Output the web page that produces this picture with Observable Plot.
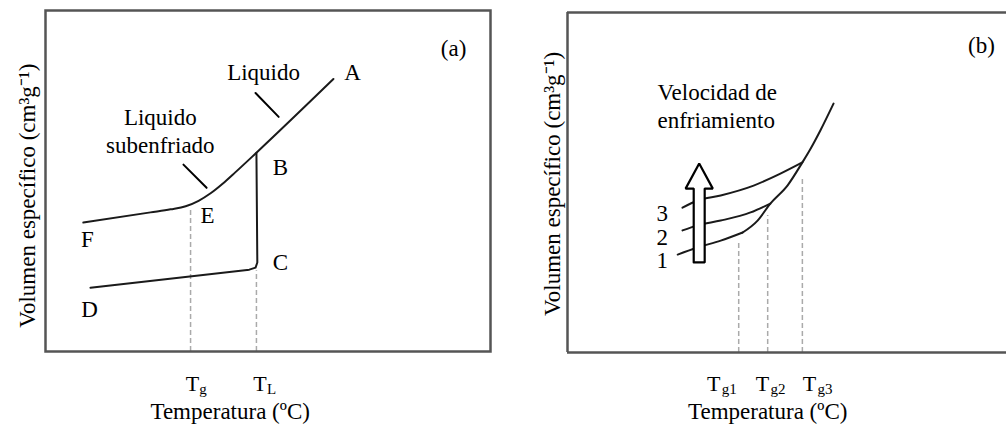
<!DOCTYPE html>
<html>
<head>
<meta charset="utf-8">
<script src="https://cdn.jsdelivr.net/npm/d3@7"></script>
<script src="https://cdn.jsdelivr.net/npm/@observablehq/plot@0.6"></script>
<style>
  html, body { margin: 0; padding: 0; background: #fff; overflow: hidden; }
  #wrap { display: flex; width: 1006px; height: 426px; }
</style>
</head>
<body>
<div id="wrap"></div>
<script>
// ---------- Panel (a) data (arbitrary units, 0–100) ----------
const curveFEBA = [[8.5,37.8],[23.6,40.8],[28.1,41.7],[31.5,42.6],[34.4,44.2],[37.1,46.4],[39.8,49.2],[42.7,52.6],[47.4,58.3],[64.7,79.9]];
const curveBCD  = [[47.4,58.3],[47.6,26.1],[47.2,24.6],[45.8,24.0],[10.1,18.7]];
const guideAX   = [32.6, 47.4];
const guideATop = [41.9, 23.7];
const tickAX    = [33.0, 48.2];
const tickASub  = ["g", "L"];
const pointerA  = [[[47.2,75.8],[52.4,68.8]], [[31.0,54.8],[36.2,48.0]]];
const labelsA   = [
  {text: "A", x: 69.0, y: 82.3},
  {text: "B", x: 52.8, y: 54.5},
  {text: "C", x: 52.8, y: 26.6},
  {text: "D", x: 9.9,  y: 12.9},
  {text: "E", x: 36.4, y: 40.4},
  {text: "F", x: 9.4,  y: 33.4},
  {text: "Liquido", x: 49.0, y: 82.3},
  {text: "Liquido\nsubenfriado", x: 25.8, y: 65.0},
  {text: "(a)", x: 91.7, y: 89.3}
];

// ---------- Panel (b) data ----------
const curve1B = [[25.1,28.8],[29.6,30.9],[34.9,32.9],[39.9,35.3]];
const mainB   = [[39.9,35.3],[43.3,38.8],[46.2,43.8],[50.1,49.1],[53.5,55.9],[55.4,60.0],[57.6,65.3],[60.6,73.2]];
const curve2B = [[26.2,35.9],[29.6,37.4],[34.9,38.8],[41.7,41.2],[46.2,43.8]];
const curve3B = [[26.2,42.6],[29.6,44.7],[34.9,46.2],[42.4,49.1],[48.5,52.6],[53.5,55.9]];
const guideBX   = [39.0, 45.6, 53.5];
const guideBTop = [32.1, 40.3, 51.5];
const tickBX    = [33.3, 44.4, 55.1];
const tickBSub  = ["g1", "g2", "g3"];
const rateLabels = [
  {text: "3", x: 21.6, y: 40.9},
  {text: "2", x: 21.6, y: 33.8},
  {text: "1", x: 21.6, y: 27.1}
];
const arrowB = {x: 30.0, base: 26.5, neck: 48.2, tip: 55.6, shaft: 1.25, head: 3.1};
const noteB  = {text: "Velocidad de\nenfriamiento", x: 20.5, y: 72.8};
const panelB = {text: "(b)", x: 94.3, y: 90.3};

const yTitle = "Volumen específico (cm³g⁻¹)";
const xTitle = "Temperatura (ºC)";

const FONT = "'Liberation Serif', 'Times New Roman', serif";
const INK = "#1a1a1a";
const FRAME = "#555";
const DASH = "#aaaaaa";

const toPts = arr => arr.map(([x, y]) => ({x, y}));

// ---------- Panel (a) ----------
const plotA = Plot.plot({
  width: 500, height: 426,
  marginLeft: 45, marginRight: 10, marginTop: 10, marginBottom: 75,
  x: {domain: [0, 100], axis: null},
  y: {domain: [0, 100], axis: null},
  style: {fontFamily: FONT, fontSize: "23px", color: "black", background: "white"},
  marks: [
    Plot.ruleX(guideAX.map((x, i) => ({x, top: guideATop[i]})), {x: "x", y1: 0, y2: "top", stroke: DASH, strokeWidth: 1.5, strokeDasharray: "5,3"}),
    Plot.frame({stroke: FRAME, strokeWidth: 2.5}),
    Plot.line(toPts(curveFEBA), {x: "x", y: "y", curve: "monotone-x", stroke: INK, strokeWidth: 2}),
    Plot.line(toPts(curveBCD), {x: "x", y: "y", curve: "linear", stroke: INK, strokeWidth: 2, strokeLinejoin: "round"}),
    ...pointerA.map(seg => Plot.line(toPts(seg), {x: "x", y: "y", stroke: "black", strokeWidth: 2})),
    Plot.text(labelsA, {x: "x", y: "y", text: "text", fontSize: 23, lineHeight: 1.25, textAnchor: "middle", lineAnchor: "middle", fill: "black"}),
    Plot.text(tickAX, {x: d => d, text: () => "T", frameAnchor: "bottom", dy: 39, lineAnchor: "bottom", fontSize: 22}),
    Plot.text(tickAX, {x: d => d, text: (d, i) => tickASub[i], frameAnchor: "bottom", dx: 7, dy: 42, lineAnchor: "bottom", textAnchor: "start", fontSize: 15}),
    Plot.text([xTitle], {x: 41.5, frameAnchor: "bottom", dy: 67, lineAnchor: "bottom", fontSize: 23}),
    Plot.text([yTitle], {y: 45.7, frameAnchor: "left", dx: -18, rotate: -90, textAnchor: "middle", lineAnchor: "middle", fontSize: 23})
  ]
});

// ---------- Panel (b) ----------
const a = arrowB;
const arrowPoly = [
  [a.x - a.shaft, a.base], [a.x - a.shaft, a.neck], [a.x - a.head, a.neck], [a.x, a.tip],
  [a.x + a.head, a.neck], [a.x + a.shaft, a.neck], [a.x + a.shaft, a.base], [a.x - a.shaft, a.base]
];

const plotB = Plot.plot({
  width: 506, height: 426,
  marginLeft: 67, marginRight: 0, marginTop: 12, marginBottom: 74,
  x: {domain: [0, 100], axis: null},
  y: {domain: [0, 100], axis: null},
  style: {fontFamily: FONT, fontSize: "23px", color: "black", background: "white"},
  marks: [
    Plot.ruleX(guideBX.map((x, i) => ({x, top: guideBTop[i]})), {x: "x", y1: 0, y2: "top", stroke: DASH, strokeWidth: 1.5, strokeDasharray: "5,3"}),
    Plot.ruleY([0, 100], {stroke: FRAME, strokeWidth: 2.5}),
    Plot.ruleX([0], {stroke: FRAME, strokeWidth: 2.5}),
    Plot.line(toPts(curve1B), {x: "x", y: "y", curve: "monotone-x", stroke: INK, strokeWidth: 2}),
    Plot.line(toPts(mainB), {x: "x", y: "y", curve: "monotone-x", stroke: INK, strokeWidth: 2}),
    Plot.line(toPts(curve2B), {x: "x", y: "y", curve: "monotone-x", stroke: INK, strokeWidth: 2}),
    Plot.line(toPts(curve3B), {x: "x", y: "y", curve: "monotone-x", stroke: INK, strokeWidth: 2}),
    Plot.line(toPts(arrowPoly), {x: "x", y: "y", curve: "linear", fill: "white", stroke: "black", strokeWidth: 2.2, strokeLinejoin: "miter"}),
    Plot.text(rateLabels, {x: "x", y: "y", text: "text", fontSize: 23, textAnchor: "middle", lineAnchor: "middle"}),
    Plot.text([noteB], {x: "x", y: "y", text: "text", fontSize: 23, lineHeight: 1.2, textAnchor: "start", lineAnchor: "middle"}),
    Plot.text([panelB], {x: "x", y: "y", text: "text", fontSize: 23, textAnchor: "middle", lineAnchor: "middle"}),
    Plot.text(tickBX, {x: d => d, text: () => "T", frameAnchor: "bottom", dy: 38, lineAnchor: "bottom", fontSize: 22}),
    Plot.text(tickBX, {x: d => d, text: (d, i) => tickBSub[i], frameAnchor: "bottom", dx: 8, dy: 41, lineAnchor: "bottom", textAnchor: "start", fontSize: 15}),
    Plot.text([xTitle], {x: 45.6, frameAnchor: "bottom", dy: 66, lineAnchor: "bottom", fontSize: 23}),
    Plot.text([yTitle], {y: 49.6, frameAnchor: "left", dx: -15, rotate: -90, textAnchor: "middle", lineAnchor: "middle", fontSize: 23})
  ]
});

document.getElementById("wrap").append(plotA, plotB);
</script>
</body>
</html>
